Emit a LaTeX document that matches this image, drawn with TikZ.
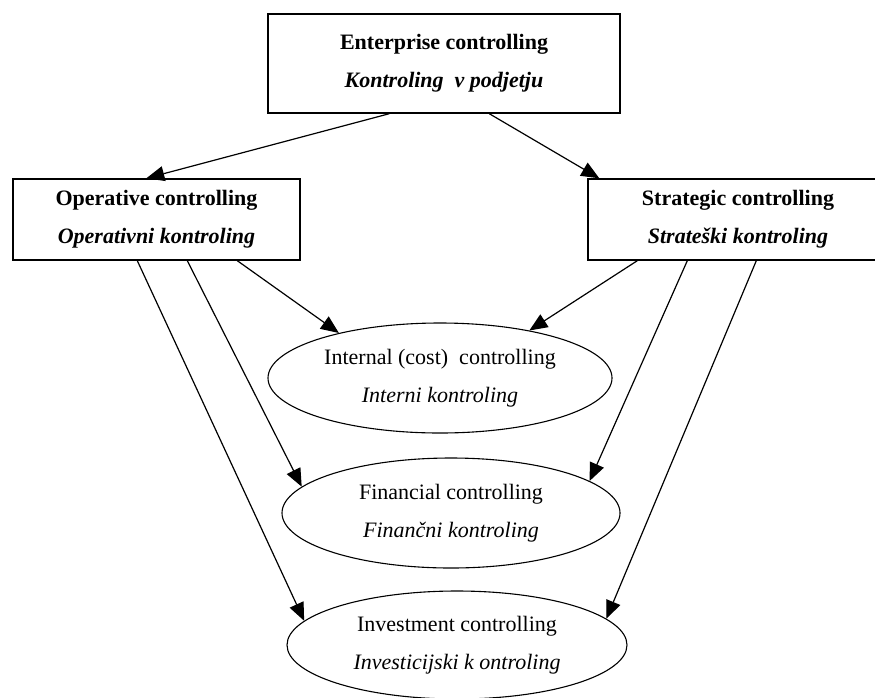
\documentclass[tikz,border=0pt]{standalone}
\usepackage{fontspec}
\setmainfont{Liberation Serif}
\usetikzlibrary{shapes.geometric,arrows.meta}
\begin{document}
\begin{tikzpicture}[x=1pt,y=-1pt,
  txt/.style={font=\fontsize{22}{38}\selectfont, align=center},
  boxnode/.style={txt, draw, line width=1.4pt, rectangle, inner sep=0pt},
  ellnode/.style={txt, draw, line width=1.1pt, ellipse, inner sep=0pt, minimum width=342pt, minimum height=110pt},
  conn/.style={line width=1.2pt, -{Triangle[length=18pt,width=15pt]}}
]
\useasboundingbox (0,0) rectangle (875,697);
\clip (0,0) rectangle (875,697);
\node[boxnode, minimum width=352pt, minimum height=99pt] (ent) at (444,63.5)
  {\textbf{Enterprise controlling}\\ \textbf{\textit{Kontroling\ \ v podjetju}}};
\node[boxnode, minimum width=287pt, minimum height=81pt] (op) at (156.5,219.5)
  {\textbf{Operative controlling}\\ \textbf{\textit{Operativni kontroling}}};
\node[boxnode, minimum width=300pt, minimum height=81pt] (st) at (738,219.5)
  {\textbf{Strategic controlling}\\ \textbf{\textit{Strateški kontroling}}};
\node[ellnode, minimum width=344pt] (int) at (440,378)
  {Internal (cost)\ \ controlling\\ \textit{Interni kontroling}};
\node[ellnode, minimum width=338pt] (fin) at (451,513)
  {Financial controlling\\ \textit{Finančni kontroling}};
\node[ellnode, minimum width=340pt, minimum height=108pt] (inv) at (457,645)
  {Investment controlling\\ \textit{Investicijski k ontroling}};
% connectors
\draw[conn] ([xshift=122pt]ent.south west) -- ([xshift=134pt]op.north west);
\draw[conn] ([xshift=222pt]ent.south west) -- ([xshift=12pt]st.north west);
\draw[conn] ([xshift=225pt]op.south west) -- (int.156);
\draw[conn] ([xshift=175pt]op.south west) -- (fin.170);
\draw[conn] ([xshift=125pt]op.south west) -- (inv.171);
\draw[conn] ([xshift=50pt]st.south west) -- (int.28);
\draw[conn] ([xshift=100pt]st.south west) -- (fin.13);
\draw[conn] ([xshift=169pt]st.south west) -- (inv.10);
\end{tikzpicture}
\end{document}
